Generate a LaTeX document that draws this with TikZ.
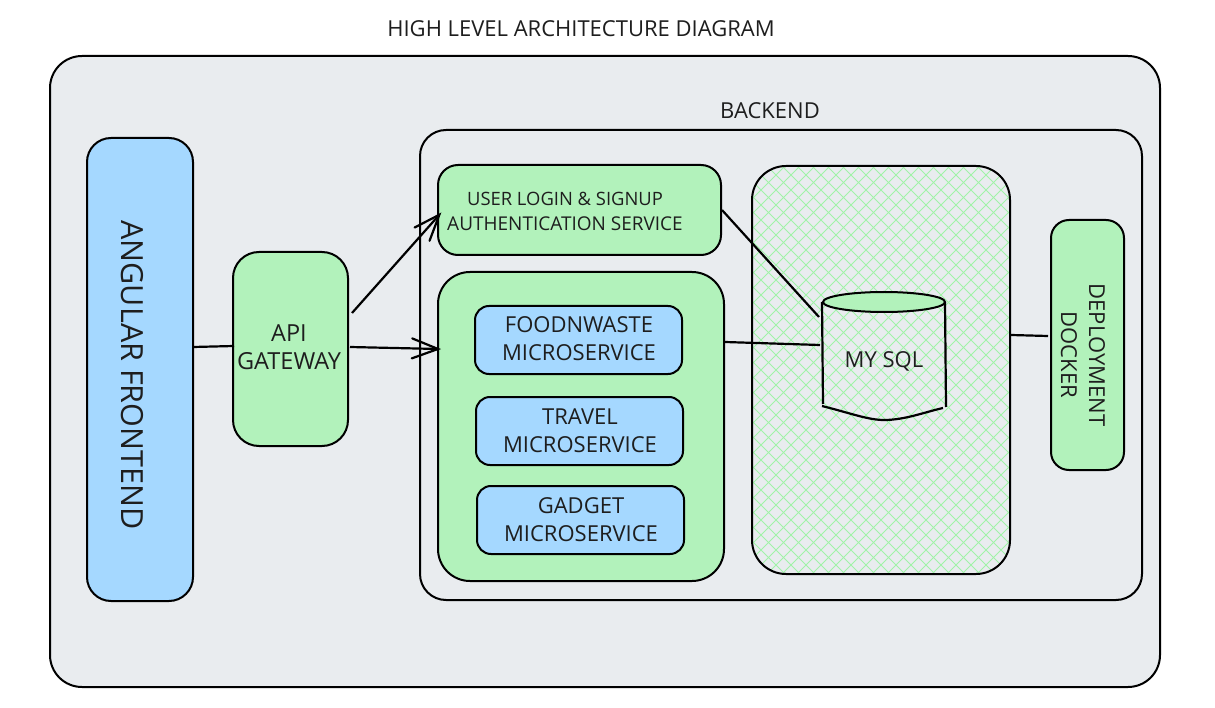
\documentclass[tikz,border=0pt]{standalone}
\usepackage{fontspec}
\setmainfont{Open Sans}
\usetikzlibrary{arrows.meta,shapes.geometric}
\definecolor{panel}{HTML}{E9ECEF}
\definecolor{mint}{HTML}{B2F2BB}
\definecolor{sky}{HTML}{A5D8FF}
\definecolor{ink}{HTML}{1E1E1E}
\pgfdeclarearrow{
  name=OpenVee,
  setup code={\pgfarrowssettipend{1pt}\pgfarrowssetlineend{-1pt}\pgfarrowssetvisualbackend{-1pt}\pgfarrowssetbackend{-26pt}\pgfarrowshullpoint{-26pt}{11pt}\pgfarrowshullpoint{-26pt}{-11pt}\pgfarrowshullpoint{1pt}{0pt}},
  drawing code={\pgfsetdash{}{0pt}\pgfsetlinewidth{2.2pt}\pgfsetroundcap\pgfsetmiterjoin
    \pgfpathmoveto{\pgfpoint{-26pt}{10pt}}\pgfpathlineto{\pgfpoint{0pt}{0pt}}\pgfpathlineto{\pgfpoint{-26pt}{-10pt}}\pgfusepathqstroke},
  defaults={}
}
\tikzset{
  boxpath/.style={draw=black,line width=2pt,rounded corners=#1},
  txt/.style={text=ink,align=center,inner sep=0pt,font=\fontsize{22}{28}\selectfont},
  link/.style={draw=black,line width=2.2pt},
  arrowlink/.style={link,-{OpenVee}},
  hatch/.style={draw=mint!90!green,line width=1pt}
}
\newcommand{\rbox}[7]{% name, x0,y0,x1,y1, fill, radius
  \path[boxpath=#7,fill=#6] (#2,#3) rectangle (#4,#5);
  \coordinate (#1) at ({(#2+#4)/2},{(#3+#5)/2});
}
\begin{document}
\begin{tikzpicture}[x=1pt,y=-1pt]
\useasboundingbox (0,0) rectangle (1215,708);
\fill[white] (0,0) rectangle (1215,708);
\rbox{outer}{50}{56}{1160}{687}{panel}{32pt}
\node[txt] (title) at (581,29) {HIGH LEVEL ARCHITECTURE DIAGRAM};
\node[txt] (backendlabel) at (770,111) {BACKEND};
\rbox{backend}{420}{130}{1142}{600}{panel}{26pt}
% database panel with hatching
\fill[panel,rounded corners=34pt] (752,166) rectangle (1010,574);
\begin{scope}
  \clip[rounded corners=34pt] (752,166) rectangle (1010,574);
  \foreach \k in {-420,-405,...,700}{
    \draw[hatch] (752+\k,166) -- ++(700,700);
    \draw[hatch] (1010-\k,166) -- ++(-700,700);
  }
\end{scope}
\draw[black,line width=2pt,rounded corners=34pt] (752,166) rectangle (1010,574);
% frontend and gateway
\rbox{frontend}{87}{138}{193}{601}{sky}{24pt}
\node[txt,rotate=-90,font=\fontsize{30.5}{32}\selectfont] (frontendlabel) at (132,375) {ANGULAR FRONTEND};
\rbox{gateway}{233}{252}{348}{446}{mint}{26pt}
\node[txt,font=\fontsize{23.5}{28}\selectfont] (gatewaylabel) at (289,347) {API\\GATEWAY};
% services
\rbox{auth}{438}{165}{721}{255}{mint}{20pt}
\node[txt,font=\fontsize{19}{25}\selectfont] (authlabel) at (565,211) {\fontsize{18.4}{25}\selectfont USER LOGIN \& SIGNUP\\AUTHENTICATION SERVICE};
\rbox{micro}{438}{272}{724}{581}{mint}{32pt}
\rbox{food}{475}{306}{682}{374}{sky}{14pt}
\node[txt] (foodlabel) at (579,339) {FOODNWASTE\\MICROSERVICE};
\rbox{travel}{476}{397}{683}{465}{sky}{14pt}
\node[txt] (travellabel) at (580,431) {TRAVEL\\MICROSERVICE};
\rbox{gadget}{477}{486}{684}{554}{sky}{14pt}
\node[txt] (gadgetlabel) at (581,520) {GADGET\\MICROSERVICE};
% deployment
\rbox{deploy}{1051}{220}{1124}{470}{mint}{18pt}
\node[txt,rotate=-90] (deploylabel) at (1083,355) {DEPLOYMENT\\DOCKER};
% cylinder
\draw[link] (822,302) -- (823,404);
\draw[link] (945,302) -- (946,407);
\node[draw=black,line width=2pt,fill=mint,ellipse,minimum width=122pt,minimum height=20pt,inner sep=0pt] (dbtop) at (884,302) {};
\draw[link] (822,406) .. controls (850,413) and (868,420) .. (884,420) .. controls (905,420) and (925,412) .. (943,408);
\node[txt] (dblabel) at (884,361) {MY SQL};
% connectors
\coordinate (a1) at (193,347); \coordinate (a2) at (234,346);
\coordinate (b1) at (352,313); \coordinate (b2) at (440,214);
\coordinate (c1) at (350,347); \coordinate (c2) at (439,349);
\coordinate (d1) at (722,210); \coordinate (d2) at (819,317);
\coordinate (e1) at (725,342); \coordinate (e2) at (820,345);
\coordinate (f1) at (1011,335); \coordinate (f2) at (1048,336);
\draw[link] (a1) -- (a2);
\draw[arrowlink] (b1) -- (b2);
\draw[arrowlink] (c1) -- (c2);
\draw[link] (d1) -- (d2);
\draw[link] (e1) -- (e2);
\draw[link] (f1) -- (f2);
\end{tikzpicture}
\end{document}
